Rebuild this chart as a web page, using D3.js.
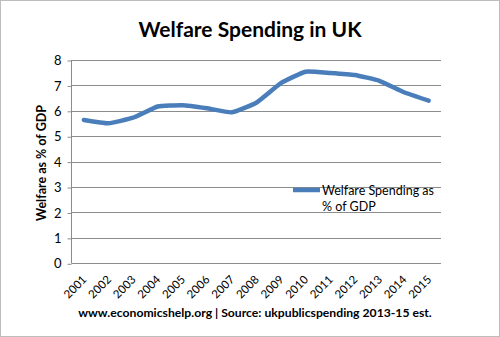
<!DOCTYPE html>
<html><head><meta charset="utf-8">
<script src="https://cdn.jsdelivr.net/npm/d3@7"></script>
<style>body{margin:0;background:#fff}svg{display:block}</style>
</head><body><svg id="c" width="500" height="337"></svg>
<script>
const years = ["2001","2002","2003","2004","2005","2006","2007","2008","2009","2010","2011","2012","2013","2014","2015"];
const welfare = [5.64,5.51,5.73,6.17,6.22,6.10,5.94,6.32,7.09,7.54,7.49,7.41,7.18,6.73,6.40];
const yTicks = [0,1,2,3,4,5,6,7,8];
const seriesName = ["Welfare Spending as","% of GDP"];
const title = "Welfare Spending in UK";
const yLabel = "Welfare as % of GDP";
const footer = "www.economicshelp.org | Source: ukpublicspending 2013-15 est.";

const svg = d3.select("#c");
const font = "Lato, 'Open Sans', sans-serif";
svg.append("rect").attr("x",0.5).attr("y",0.5).attr("width",499).attr("height",336)
  .attr("fill","#fff").attr("stroke","#bdbdbd");

const m = {l:71.5, r:441, t:60, b:263.3};
const x = d3.scaleBand().domain(years).range([m.l, m.r]);
const y = d3.scaleLinear().domain([0,8]).range([m.b, m.t]);

// gridlines
svg.append("g").selectAll("line").data(yTicks).join("line")
  .attr("x1",m.l).attr("x2",m.r).attr("y1",d=>Math.round(y(d))+0.5).attr("y2",d=>Math.round(y(d))+0.5)
  .attr("stroke","#8c8c8c").attr("stroke-width",1);
// y axis line
svg.append("line").attr("x1",m.l).attr("x2",m.l).attr("y1",m.t).attr("y2",m.b)
  .attr("stroke","#8c8c8c");
// y ticks
const ya = d3.axisLeft(y).tickValues(yTicks).tickSize(4).tickPadding(6);
const gy = svg.append("g").attr("transform",`translate(${m.l},0.5)`).call(ya);
gy.select(".domain").remove();
gy.selectAll("line").attr("stroke","#8c8c8c");
gy.selectAll("text").attr("font-family",font).attr("font-size",13).attr("fill","#000");

// x axis labels
const xa = d3.axisBottom(x).tickSize(0).tickPadding(0);
const gx = svg.append("g").attr("transform",`translate(0,${m.b})`).call(xa);
gx.select(".domain").remove();
gx.selectAll("text").attr("font-family",font).attr("font-size",11.5).attr("fill","#000")
  .attr("text-anchor","end").attr("y",0).attr("dy",0)
  .attr("transform","translate(3.5,17) rotate(-45)");

// line
const line = d3.line().x((d,i)=>x(years[i])+x.bandwidth()/2).y(d=>y(d)).curve(d3.curveCardinal.tension(0.6));
svg.append("path").datum(welfare).attr("d",line).attr("fill","none")
  .attr("stroke","#4a7ebb").attr("stroke-width",4.5).attr("stroke-linejoin","round").attr("stroke-linecap","round");

// legend
svg.append("line").attr("x1",293).attr("x2",320).attr("y1",190).attr("y2",190)
  .attr("stroke","#4a7ebb").attr("stroke-width",4.5);
svg.append("text").attr("x",322).attr("y",195).attr("font-family",font).attr("font-size",12.5)
  .text(seriesName[0]);
svg.append("text").attr("x",322).attr("y",211).attr("font-family",font).attr("font-size",12.5)
  .text(seriesName[1]);

// title
svg.append("text").attr("x",250).attr("y",37).attr("text-anchor","middle")
  .attr("font-family",font).attr("font-weight","bold").attr("font-size",21).text(title);
// y label
svg.append("text").attr("transform","translate(46,163) rotate(-90)").attr("text-anchor","middle")
  .attr("font-family",font).attr("font-weight","bold").attr("font-size",12.5).text(yLabel);
// footer
svg.append("text").attr("x",255).attr("y",317).attr("text-anchor","middle")
  .attr("font-family",font).attr("font-weight","bold").attr("font-size",12.2).text(footer);
</script></body></html>
